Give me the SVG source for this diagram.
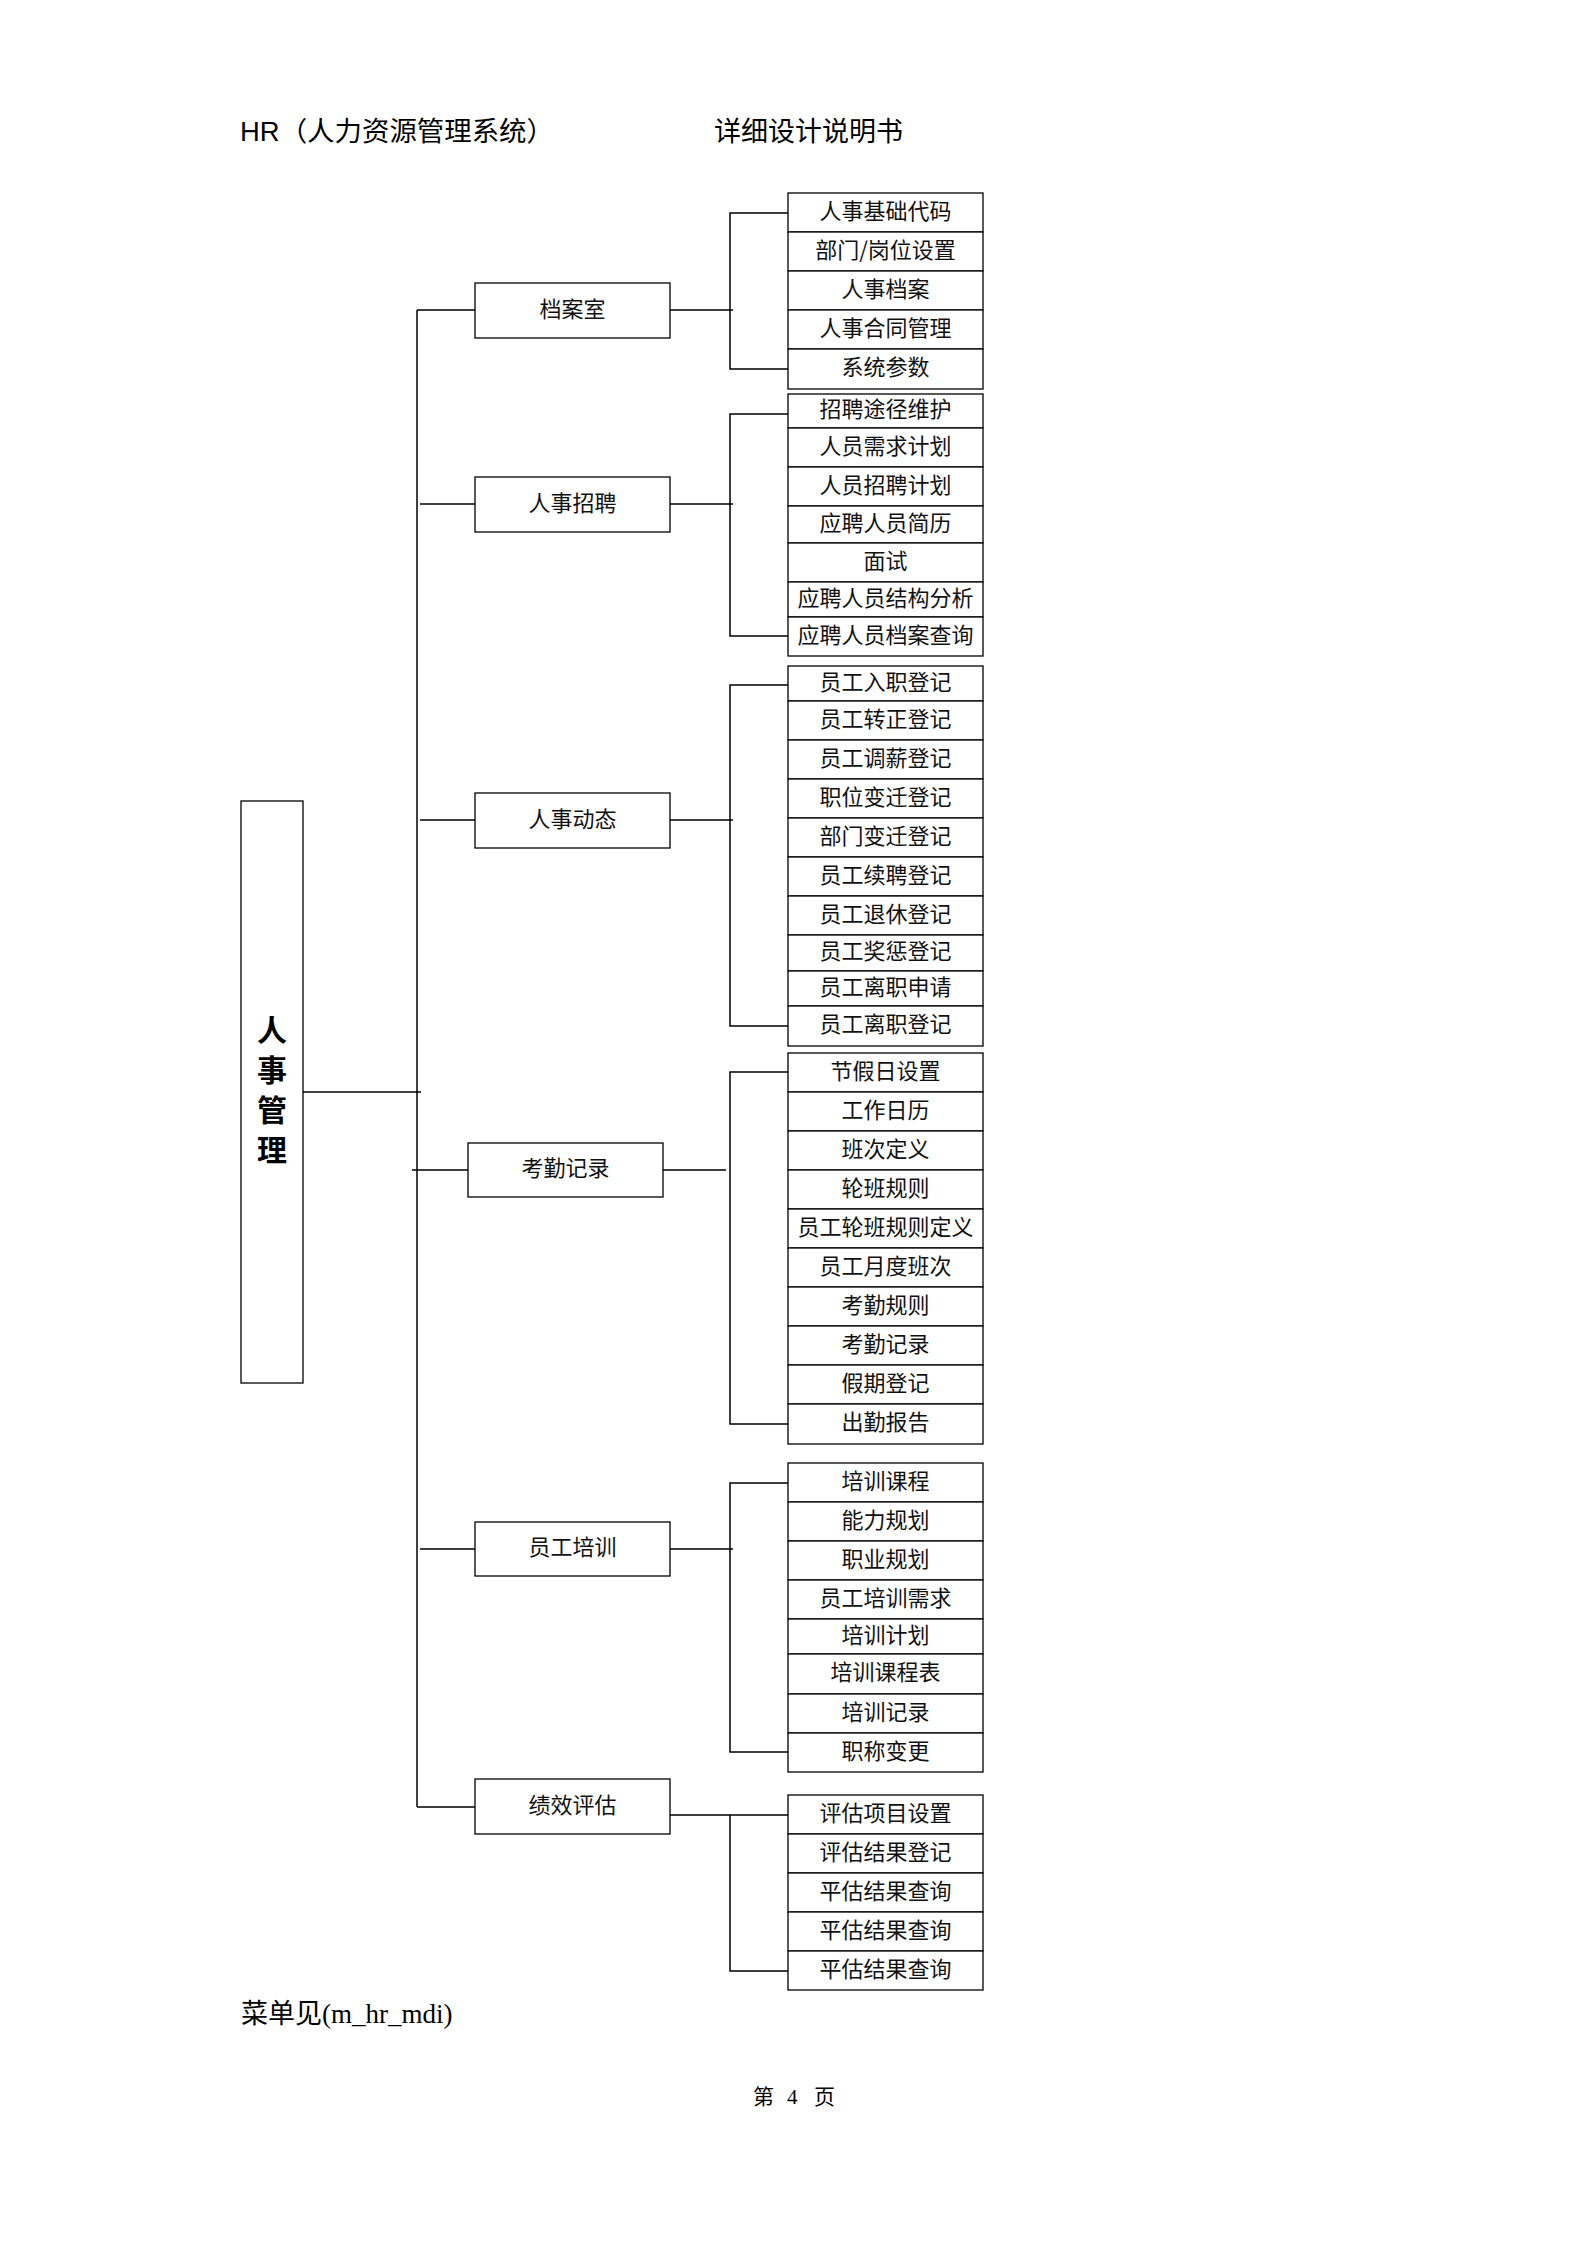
<svg xmlns="http://www.w3.org/2000/svg" width="1587" height="2244" viewBox="0 0 1587 2244">
<style>
.box{fill:#fff;stroke:#000;stroke-width:1.3}
.ln{fill:none;stroke:#000;stroke-width:1.5}
.t{font-family:"Noto Sans CJK SC",sans-serif;font-size:22px;text-anchor:middle;dominant-baseline:central;fill:#111}
.hd{font-family:"Liberation Sans","Noto Sans CJK SC",sans-serif;font-size:27px;fill:#000}
.ft{font-family:"Liberation Serif","Noto Sans CJK SC",serif;fill:#000}
.main{font-family:"Noto Sans CJK SC",sans-serif;font-size:30px;font-weight:bold;writing-mode:vertical-rl;letter-spacing:10px;fill:#000}
</style>
<rect width="1587" height="2244" fill="#fff"/>
<g id="header">
<text class="hd" x="240" y="141" textLength="314" lengthAdjust="spacingAndGlyphs">HR（人力资源管理系统）</text>
<text class="hd" x="714" y="141">详细设计说明书</text>
</g>
<g id="connectors">
<path class="ln" d="M303,1092 H421"/>
<path class="ln" d="M417,310 V1807"/>
<path class="ln" d="M417,310 H475 M420,504 H475 M420,820 H475 M412,1170 H468 M420,1549 H475 M417,1807 H475"/>
<path class="ln" d="M670,310 H733 M670,504 H733 M670,820 H733 M663,1170 H726 M670,1549 H733 M670,1815 H788"/>
<path class="ln" d="M788,213 H730 V369 H788"/>
<path class="ln" d="M788,414 H730 V636 H788"/>
<path class="ln" d="M788,685 H730 V1026 H788"/>
<path class="ln" d="M788,1072 H730 V1424 H788"/>
<path class="ln" d="M788,1483 H730 V1752 H788"/>
<path class="ln" d="M730,1815 V1971 H788"/>
</g>
<g id="root">
<rect class="box" x="241" y="801" width="62" height="582"/>
<text class="main" x="272" y="1015">人事管理</text>
</g>
<g id="l2">
<g id="n-danganshi"><rect class="box" x="475" y="283" width="195" height="55"/><text class="t" x="572.5" y="306.5">档案室</text></g>
<g id="n-zhaopin"><rect class="box" x="475" y="477" width="195" height="55"/><text class="t" x="572.5" y="500.5">人事招聘</text></g>
<g id="n-dongtai"><rect class="box" x="475" y="793" width="195" height="55"/><text class="t" x="572.5" y="816.5">人事动态</text></g>
<g id="n-kaoqin"><rect class="box" x="468" y="1143" width="195" height="54"/><text class="t" x="565.5" y="1166">考勤记录</text></g>
<g id="n-peixun"><rect class="box" x="475" y="1522" width="195" height="54"/><text class="t" x="572.5" y="1545">员工培训</text></g>
<g id="n-jixiao"><rect class="box" x="475" y="1779" width="195" height="55"/><text class="t" x="572.5" y="1802.5">绩效评估</text></g>
</g>
<g id="c1">
<g id="c1-1"><rect class="box" x="788" y="193" width="195" height="39"/><text class="t" x="885.5" y="208.5">人事基础代码</text></g>
<g id="c1-2"><rect class="box" x="788" y="232" width="195" height="39"/><text class="t" x="885.5" y="247.5">部门/岗位设置</text></g>
<g id="c1-3"><rect class="box" x="788" y="271" width="195" height="39"/><text class="t" x="885.5" y="286.5">人事档案</text></g>
<g id="c1-4"><rect class="box" x="788" y="310" width="195" height="39"/><text class="t" x="885.5" y="325.5">人事合同管理</text></g>
<g id="c1-5"><rect class="box" x="788" y="349" width="195" height="40"/><text class="t" x="885.5" y="365">系统参数</text></g>
</g>
<g id="c2">
<g id="c2-1"><rect class="box" x="788" y="394" width="195" height="34"/><text class="t" x="885.5" y="407">招聘途径维护</text></g>
<g id="c2-2"><rect class="box" x="788" y="428" width="195" height="39"/><text class="t" x="885.5" y="443.5">人员需求计划</text></g>
<g id="c2-3"><rect class="box" x="788" y="467" width="195" height="39"/><text class="t" x="885.5" y="482.5">人员招聘计划</text></g>
<g id="c2-4"><rect class="box" x="788" y="506" width="195" height="37"/><text class="t" x="885.5" y="520.5">应聘人员简历</text></g>
<g id="c2-5"><rect class="box" x="788" y="543" width="195" height="39"/><text class="t" x="885.5" y="558.5">面试</text></g>
<g id="c2-6"><rect class="box" x="788" y="582" width="195" height="35"/><text class="t" x="885.5" y="595.5">应聘人员结构分析</text></g>
<g id="c2-7"><rect class="box" x="788" y="617" width="195" height="39"/><text class="t" x="885.5" y="632.5">应聘人员档案查询</text></g>
</g>
<g id="c3">
<g id="c3-1"><rect class="box" x="788" y="666" width="195" height="35"/><text class="t" x="885.5" y="679.5">员工入职登记</text></g>
<g id="c3-2"><rect class="box" x="788" y="701" width="195" height="39"/><text class="t" x="885.5" y="716.5">员工转正登记</text></g>
<g id="c3-3"><rect class="box" x="788" y="740" width="195" height="39"/><text class="t" x="885.5" y="755.5">员工调薪登记</text></g>
<g id="c3-4"><rect class="box" x="788" y="779" width="195" height="39"/><text class="t" x="885.5" y="794.5">职位变迁登记</text></g>
<g id="c3-5"><rect class="box" x="788" y="818" width="195" height="39"/><text class="t" x="885.5" y="833.5">部门变迁登记</text></g>
<g id="c3-6"><rect class="box" x="788" y="857" width="195" height="39"/><text class="t" x="885.5" y="872.5">员工续聘登记</text></g>
<g id="c3-7"><rect class="box" x="788" y="896" width="195" height="39"/><text class="t" x="885.5" y="911.5">员工退休登记</text></g>
<g id="c3-8"><rect class="box" x="788" y="935" width="195" height="36"/><text class="t" x="885.5" y="949">员工奖惩登记</text></g>
<g id="c3-9"><rect class="box" x="788" y="971" width="195" height="35"/><text class="t" x="885.5" y="984.5">员工离职申请</text></g>
<g id="c3-10"><rect class="box" x="788" y="1006" width="195" height="40"/><text class="t" x="885.5" y="1022">员工离职登记</text></g>
</g>
<g id="c4">
<g id="c4-1"><rect class="box" x="788" y="1053" width="195" height="39"/><text class="t" x="885.5" y="1068.5">节假日设置</text></g>
<g id="c4-2"><rect class="box" x="788" y="1092" width="195" height="39"/><text class="t" x="885.5" y="1107.5">工作日历</text></g>
<g id="c4-3"><rect class="box" x="788" y="1131" width="195" height="39"/><text class="t" x="885.5" y="1146.5">班次定义</text></g>
<g id="c4-4"><rect class="box" x="788" y="1170" width="195" height="39"/><text class="t" x="885.5" y="1185.5">轮班规则</text></g>
<g id="c4-5"><rect class="box" x="788" y="1209" width="195" height="39"/><text class="t" x="885.5" y="1224.5">员工轮班规则定义</text></g>
<g id="c4-6"><rect class="box" x="788" y="1248" width="195" height="39"/><text class="t" x="885.5" y="1263.5">员工月度班次</text></g>
<g id="c4-7"><rect class="box" x="788" y="1287" width="195" height="39"/><text class="t" x="885.5" y="1302.5">考勤规则</text></g>
<g id="c4-8"><rect class="box" x="788" y="1326" width="195" height="39"/><text class="t" x="885.5" y="1341.5">考勤记录</text></g>
<g id="c4-9"><rect class="box" x="788" y="1365" width="195" height="39"/><text class="t" x="885.5" y="1380.5">假期登记</text></g>
<g id="c4-10"><rect class="box" x="788" y="1404" width="195" height="40"/><text class="t" x="885.5" y="1420">出勤报告</text></g>
</g>
<g id="c5">
<g id="c5-1"><rect class="box" x="788" y="1463" width="195" height="39"/><text class="t" x="885.5" y="1478.5">培训课程</text></g>
<g id="c5-2"><rect class="box" x="788" y="1502" width="195" height="39"/><text class="t" x="885.5" y="1517.5">能力规划</text></g>
<g id="c5-3"><rect class="box" x="788" y="1541" width="195" height="39"/><text class="t" x="885.5" y="1556.5">职业规划</text></g>
<g id="c5-4"><rect class="box" x="788" y="1580" width="195" height="39"/><text class="t" x="885.5" y="1595.5">员工培训需求</text></g>
<g id="c5-5"><rect class="box" x="788" y="1619" width="195" height="35"/><text class="t" x="885.5" y="1632.5">培训计划</text></g>
<g id="c5-6"><rect class="box" x="788" y="1654" width="195" height="40"/><text class="t" x="885.5" y="1670">培训课程表</text></g>
<g id="c5-7"><rect class="box" x="788" y="1694" width="195" height="39"/><text class="t" x="885.5" y="1709.5">培训记录</text></g>
<g id="c5-8"><rect class="box" x="788" y="1733" width="195" height="39"/><text class="t" x="885.5" y="1748.5">职称变更</text></g>
</g>
<g id="c6">
<g id="c6-1"><rect class="box" x="788" y="1795" width="195" height="39"/><text class="t" x="885.5" y="1810.5">评估项目设置</text></g>
<g id="c6-2"><rect class="box" x="788" y="1834" width="195" height="39"/><text class="t" x="885.5" y="1849.5">评估结果登记</text></g>
<g id="c6-3"><rect class="box" x="788" y="1873" width="195" height="39"/><text class="t" x="885.5" y="1888.5">平估结果查询</text></g>
<g id="c6-4"><rect class="box" x="788" y="1912" width="195" height="39"/><text class="t" x="885.5" y="1927.5">平估结果查询</text></g>
<g id="c6-5"><rect class="box" x="788" y="1951" width="195" height="39"/><text class="t" x="885.5" y="1966.5">平估结果查询</text></g>
</g>
<g id="footer">
<text class="ft" x="241" y="2023" font-size="27">菜单见(m_hr_mdi)</text>
<text class="ft" y="2104" font-size="21"><tspan x="753">第</tspan><tspan x="787">4</tspan><tspan x="814">页</tspan></text>
</g>
</svg>
